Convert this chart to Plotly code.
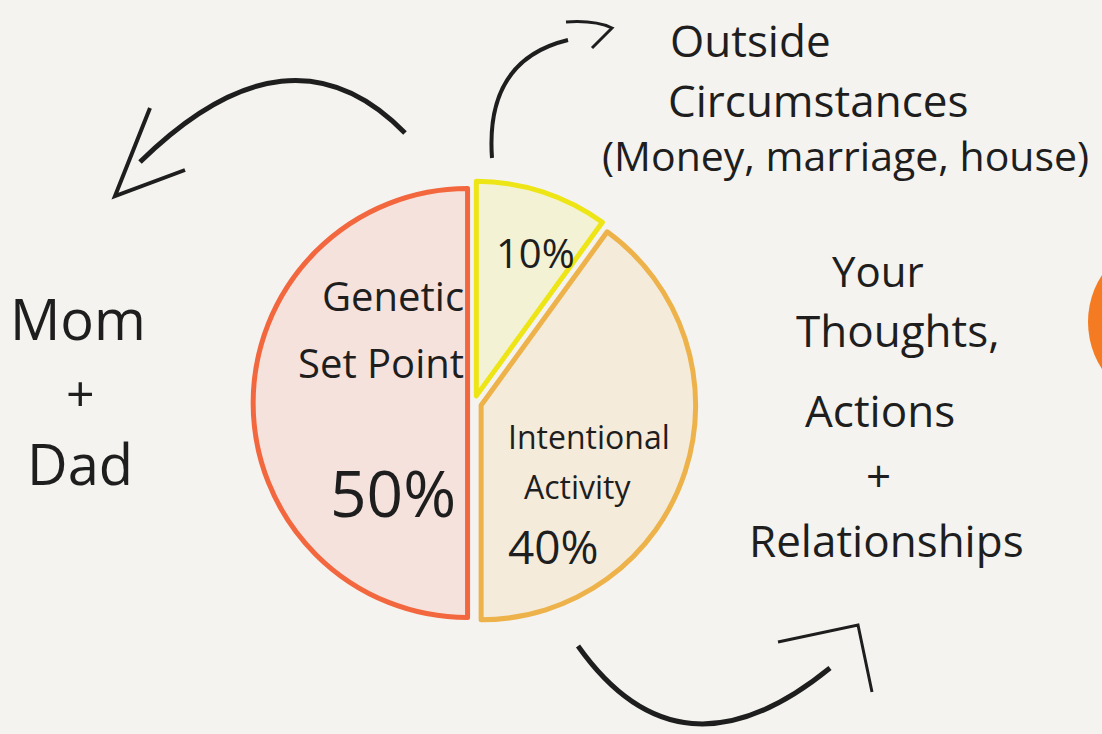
import plotly.graph_objects as go

W, H = 1102, 734

# ---- data ----
slice_labels = ["Outside Circumstances", "Intentional Activity", "Genetic Set Point"]
slice_values = [10, 40, 50]
slice_fills = ["#f3f2d4", "#f4ebdb", "#f6e2dc"]
slice_lines = ["#eee517", "#edb24a", "#f3673f"]
slice_pull = [0.035, 0.035, 0.03]

BG = "#f4f3ef"
INK = "#1e1e1e"
FONT = "Open Sans"

fig = go.Figure()

# pie geometry (pixel centre / half-size)
cx, cy, half = 474, 403, 222
fig.add_trace(go.Pie(
    labels=slice_labels, values=slice_values, sort=False,
    direction="clockwise", rotation=0, pull=slice_pull,
    marker=dict(colors=slice_fills, line=dict(color=slice_lines, width=5)),
    textinfo="none", hoverinfo="label+percent", showlegend=False,
    domain=dict(x=[(cx - half) / W, (cx + half) / W],
                y=[1 - (cy + half) / H, 1 - (cy - half) / H]),
))

# invisible pixel-space axes for decorations
fig.update_xaxes(range=[0, W], visible=False, fixedrange=True)
fig.update_yaxes(range=[H, 0], visible=False, fixedrange=True)
fig.add_trace(go.Scatter(x=[0], y=[0], mode="markers", marker=dict(opacity=0),
                         showlegend=False, hoverinfo="skip"))

def path(d, w=4):
    fig.add_shape(type="path", path=d, xref="x", yref="y",
                  line=dict(color=INK, width=w), layer="above")

# arrows
path("M 405,133 Q 290,15 140,162", 5)
path("M 150,108 L 115,196 L 185,170", 4)
path("M 492,158 Q 485,60 568,40", 4)
path("M 566,22 Q 595,20 612,28 L 592,48", 3)
path("M 578,646 Q 680,790 830,668", 5)
path("M 778,642 L 858,625 L 872,692", 3)

# orange circle at right edge
fig.add_shape(type="circle", xref="x", yref="y", x0=1090, y0=239, x1=1262, y1=411,
              fillcolor="#b8b8b8", line=dict(width=0), opacity=0.5)
fig.add_shape(type="circle", xref="x", yref="y", x0=1088, y0=236, x1=1260, y1=408,
              fillcolor="#f47b22", line=dict(width=0))

def txt(s, x, y, size, anchor="center"):
    fig.add_annotation(text=s, x=x, y=y, xref="x", yref="y", showarrow=False,
                       xanchor=anchor, yanchor="middle",
                       font=dict(family=FONT, size=size, color=INK))

# outside circumstances
txt("Outside", 668, 40, 44, "left")
txt("Circumstances", 666, 100, 44, "left")
txt("(Money, marriage, house)", 600, 155, 41, "left")

# mom + dad
txt("Mom", 78, 318, 56)
txt("+", 80, 393, 50)
txt("Dad", 80, 463, 56)

# your thoughts
txt("Your", 878, 270, 42)
txt("Thoughts,", 898, 330, 44)
txt("Actions", 880, 410, 44)
txt("+", 878, 475, 44)
txt("Relationships", 886, 540, 44)

# inside pie
txt("Genetic", 466, 295, 40, "right")
txt("Set Point", 466, 362, 40, "right")
txt("50%", 458, 492, 64, "right")
txt("10%", 494, 252, 40, "left")
txt("Intentional", 506, 436, 32, "left")
txt("Activity", 522, 486, 32, "left")
txt("40%", 506, 546, 46, "left")

fig.update_layout(
    width=W, height=H, margin=dict(l=0, r=0, t=0, b=0),
    paper_bgcolor=BG, plot_bgcolor=BG,
)

fig.write_html("out.html", config={"displayModeBar": False},
               post_script="document.body.style.margin='0';document.body.style.background='%s';" % BG)
